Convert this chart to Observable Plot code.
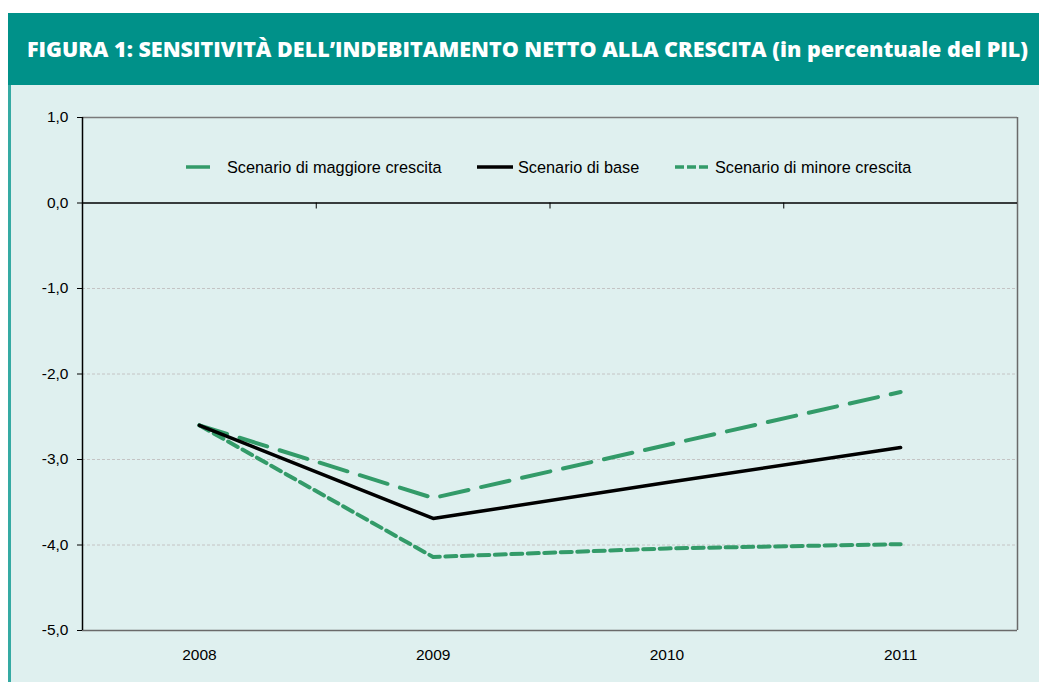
<!DOCTYPE html>
<html>
<head>
<meta charset="utf-8">
<script src="https://cdn.jsdelivr.net/npm/d3@7"></script>
<script src="https://cdn.jsdelivr.net/npm/@observablehq/plot@0.6"></script>
<style>
  html, body { margin: 0; padding: 0; background: #ffffff; width: 1039px; height: 682px; overflow: hidden; }
  #title { position: absolute; left: 8px; top: 13px; width: 1031px; height: 72px; background: #009189; }
  #title span { position: absolute; left: 19px; top: 50%; transform-origin: left center; color: #fff; font-family: "Open Sans", "DejaVu Sans", sans-serif; font-weight: 800; font-size: 21.5px; white-space: nowrap; line-height: 1; }
  #panel { position: absolute; left: 8px; top: 85px; width: 1031px; height: 597px; background: #dff0ef; }
  #border { position: absolute; left: 8px; top: 85px; width: 2.5px; height: 597px; background: #35aaa3; }
  #chart { position: absolute; left: 8px; top: 85px; }
  #legend { position: absolute; left: 0; top: 0; }
</style>
</head>
<body>
<div id="title"><span id="ttext">FIGURA 1: SENSITIVITÀ DELL’INDEBITAMENTO NETTO ALLA CRESCITA (in percentuale del PIL)</span></div>
<div id="panel"></div>
<div id="border"></div>
<div id="chart"></div>
<svg id="legend" width="1039" height="682"></svg>
<script>
const years = [2008, 2009, 2010, 2011];
const base = [-2.6, -3.69, -3.27, -2.86];
const maggiore = [-2.6, -3.45, -2.83, -2.21];
const minore = [-2.6, -4.14, -4.04, -3.99];
const yTicks = [1, 0, -1, -2, -3, -4, -5];
const gridTicks = [-1, -2, -3, -4];
const bandEdges = [2008.5, 2009.5, 2010.5];
const seriesNames = ["Scenario di maggiore crescita", "Scenario di base", "Scenario di minore crescita"];

const green = "#339b69";
const toRows = (vals) => years.map((y, i) => ({year: y, value: vals[i]}));

const fmt = d => d.toFixed(1).replace(".", ",");

const chart = Plot.plot({
  width: 1031,
  height: 597,
  marginLeft: 74,
  marginTop: 32,
  marginBottom: 52,
  marginRight: 22,
  style: {background: "transparent", fontFamily: "'Liberation Sans', Arial, sans-serif", fontSize: "15.5px", color: "#000", overflow: "visible"},
  x: {domain: [2007.5, 2011.5], axis: null, label: null},
  y: {domain: [-5, 1], axis: null, label: null},
  marks: [
    Plot.ruleY(gridTicks, {stroke: "#c4c4c4", strokeWidth: 1, strokeDasharray: "3,2"}),
    Plot.ruleY([1], {stroke: "#7a7a7a", strokeWidth: 1.5}),
    Plot.ruleY([-5], {stroke: "#6a6a6a", strokeWidth: 1.5}),
    Plot.ruleX([2011.5], {stroke: "#6a6a6a", strokeWidth: 1.5}),
    Plot.ruleY([0], {stroke: "#000", strokeWidth: 1.5}),
    Plot.ruleX(bandEdges, {y1: 0, y2: -0.07, stroke: "#000", strokeWidth: 1}),
    Plot.ruleX([2007.5], {stroke: "#000", strokeWidth: 1.5}),
    Plot.axisY({ticks: yTicks, tickFormat: fmt, tickSize: 5, tickPadding: 9, fontSize: 15.5, label: null}),
    Plot.axisX({ticks: years, tickFormat: d => String(d), tickSize: 0, tickPadding: 18, fontSize: 15.5, label: null}),
    Plot.line(toRows(maggiore), {x: "year", y: "value", stroke: green, strokeWidth: 4, strokeDasharray: "29,13"}),
    Plot.line(toRows(minore), {x: "year", y: "value", stroke: green, strokeWidth: 4, strokeDasharray: "11,5.5"}),
    Plot.line(toRows(base), {x: "year", y: "value", stroke: "#000", strokeWidth: 3.5})
  ]
});
document.getElementById("chart").appendChild(chart);

// legend
const lg = d3.select("#legend");
const items = [
  {name: seriesNames[0], x1: 186, x2: 210, tx: 227, stroke: green, dash: null, w: 3.5},
  {name: seriesNames[1], x1: 477, x2: 513, tx: 518, stroke: "#000", dash: null, w: 3.5},
  {name: seriesNames[2], x1: 675, x2: 708, tx: 715, stroke: green, dash: "9,3", w: 3.5}
];
items.forEach(it => {
  lg.append("line").attr("x1", it.x1).attr("x2", it.x2).attr("y1", 167).attr("y2", 167)
    .attr("stroke", it.stroke).attr("stroke-width", it.w).attr("stroke-dasharray", it.dash);
  lg.append("text").attr("x", it.tx).attr("y", 167).attr("dy", "0.35em")
    .attr("font-family", "'Liberation Sans', Arial, sans-serif").attr("font-size", 16.3)
    .attr("fill", "#000").text(it.name);
});

// fit title width
const t = document.getElementById("ttext");
const w = t.getBoundingClientRect().width;
t.style.transform = `translateY(-50%) scaleX(${1001 / w})`;
</script>
</body>
</html>
